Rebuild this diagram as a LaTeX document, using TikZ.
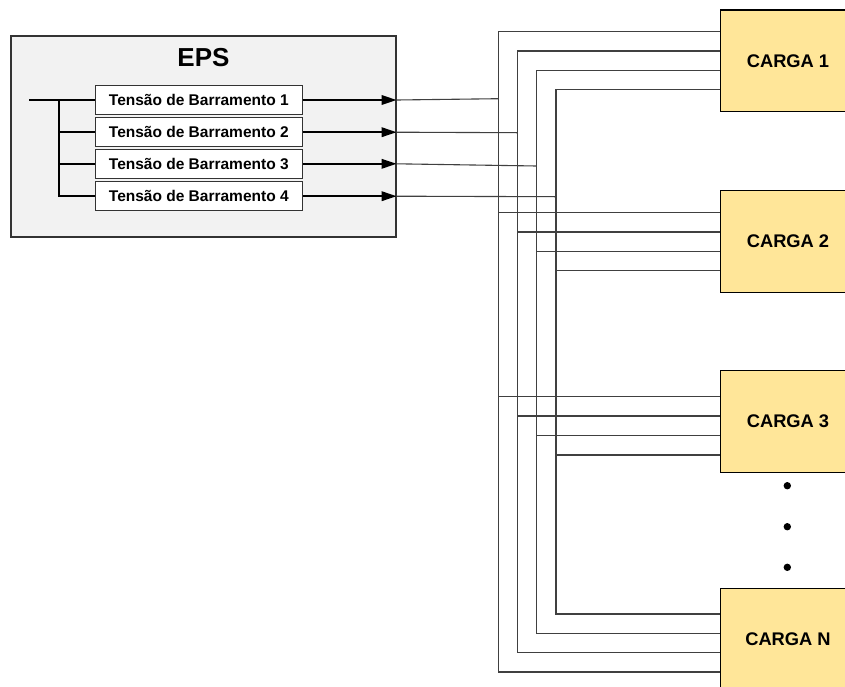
\documentclass[tikz,border=0pt]{standalone}
\usepackage{fontspec}
\setmainfont{Liberation Sans}
\usetikzlibrary{arrows.meta}
\definecolor{epsfill}{HTML}{F2F2F2}
\definecolor{loadfill}{HTML}{FFE699}
\tikzset{
  epsbox/.style={draw=black!80, line width=1.2pt, fill=epsfill, inner sep=0pt,
    minimum width=385pt, minimum height=201pt},
  busbox/.style={draw=black!80, line width=1pt, fill=white, inner sep=0pt,
    minimum width=207pt, minimum height=28.6pt,
    font=\bfseries\fontsize{15.5}{18}\selectfont},
  loadbox/.style={draw=black, line width=1.2pt, fill=loadfill, inner sep=0pt,
    minimum width=134.6pt, minimum height=101.7pt,
    font=\bfseries\fontsize{18.3}{22}\selectfont},
  feed/.style={draw=black, line width=1.9pt},
  feedarrow/.style={feed, -{Triangle[length=15pt,width=9.5pt]}},
  busline/.style={draw=black!75, line width=1.1pt},
  dotmark/.style={fill=black}
}
\begin{document}
\begin{tikzpicture}[x=1pt,y=-1pt]
\useasboundingbox (0,0) rectangle (845,686);
\clip (0,0) rectangle (845,686);
\fill[white] (0,0) rectangle (845,686);

% EPS block with the four bus voltage sources
\node[epsbox] (eps) at (203.5,136.5) {};
\node[font=\bfseries\fontsize{26}{30}\selectfont] (epstitle) at (203.5,57.5) {EPS};
\node[busbox] (v1) at (198.8,100) {Tensão de Barramento 1};
\node[busbox] (v2) at (198.8,132.2) {Tensão de Barramento 2};
\node[busbox] (v3) at (198.8,163.8) {Tensão de Barramento 3};
\node[busbox] (v4) at (198.8,196.2) {Tensão de Barramento 4};

% internal feed
\coordinate (src) at (29,100);
\coordinate (jn) at (59,100);
\draw[feed] (src) -- (v1.west);
\draw[feed] (jn) |- (v4.west);
\draw[feed] (jn |- v2.west) -- (v2.west);
\draw[feed] (jn |- v3.west) -- (v3.west);
\foreach \i in {1,2,3,4}{
  \coordinate (out\i) at (eps.east |- v\i.east);
  \draw[feedarrow] (v\i.east) -- (out\i);
}

% loads
\node[loadbox] (c1) at (788,60.9) {CARGA 1};
\node[loadbox] (c2) at (788,241.4) {CARGA 2};
\node[loadbox] (c3) at (788,421.5) {CARGA 3};
\node[loadbox] (cN) at (788,639.5) {CARGA N};

% dots between CARGA 3 and CARGA N
\fill[dotmark] (787.3,485.7) circle (3.7);
\fill[dotmark] (787.3,526.7) circle (3.7);
\fill[dotmark] (787.3,567.3) circle (3.7);

% the four bus conductors
\foreach \i/\x/\ya/\yb/\yc/\yn/\ye in {
  1/498.3/31.7/212.7/396.7/672/98.7,
  2/517.3/51/232/416/652.3/132.7,
  3/536.7/70.3/251.3/435.7/633.3/166,
  4/556/89.7/270.7/455/614/196.7}{
  \coordinate (top\i) at (\x,\ya);
  \coordinate (bot\i) at (\x,\yn);
  \coordinate (tapb\i) at (\x,\yb);
  \coordinate (tapc\i) at (\x,\yc);
  \coordinate (inp\i) at (\x,\ye);
  \draw[busline] (c1.west |- top\i) -- (top\i) -- (bot\i) -- (cN.west |- bot\i);
  \draw[busline] (tapb\i) -- (c2.west |- tapb\i);
  \draw[busline] (tapc\i) -- (c3.west |- tapc\i);
  \draw[busline] (out\i) -- (inp\i);
}
\end{tikzpicture}
\end{document}
